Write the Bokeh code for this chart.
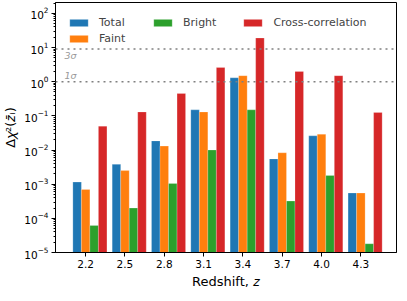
from bokeh.plotting import figure
from bokeh.models import Range1d, FixedTicker, Legend, LegendItem, Span, Label
from bokeh.embed import file_html
from bokeh.resources import INLINE

# ---- data ----
redshifts = [2.2, 2.5, 2.8, 3.1, 3.4, 3.7, 4.0, 4.3]
tick_labels = ["2.2", "2.5", "2.8", "3.1", "3.4", "3.7", "4.0", "4.3"]
total = [1.15e-3, 3.8e-3, 1.85e-2, 0.15, 1.3, 5.5e-3, 2.6e-2, 5.5e-4]
faint = [7.0e-4, 2.5e-3, 1.3e-2, 0.13, 1.5, 8.3e-3, 2.9e-2, 5.5e-4]
bright = [6.2e-5, 2.0e-4, 1.05e-3, 1.0e-2, 0.15, 3.2e-4, 1.8e-3, 1.8e-5]
cross = [0.05, 0.13, 0.45, 2.6, 19.0, 2.0, 1.5, 0.125]
series_names = ["Total", "Faint", "Bright", "Cross-correlation"]
colors = ["#1f77b4", "#ff7f0e", "#2ca02c", "#d62728"]
sigma_levels = [9.0, 1.0]
sigma_labels = ["3σ", "1σ"]
y_decades = list(range(-5, 3))

FONT = "DejaVu Sans"
bar_w = 0.065
x_start, x_end = 1.97, 4.572
y_start, y_end = 1e-5, 10 ** 2.318
fh = 250

p = figure(frame_width=341, frame_height=fh, y_axis_type="log",
           x_range=Range1d(x_start, x_end), y_range=Range1d(y_start, y_end),
           output_backend="svg", toolbar_location=None,
           min_border_left=50, min_border_right=2, min_border_top=2, min_border_bottom=30)
p.grid.visible = False
p.outline_line_color = "black"
p.outline_line_width = 1
p.background_fill_color = "white"
p.border_fill_color = "white"

renderers = []
for k, (vals, col) in enumerate(zip([total, faint, bright, cross], colors)):
    xs = [z + (k - 1) * bar_w for z in redshifts]
    r = p.vbar(x=xs, top=vals, bottom=1e-7, width=bar_w, fill_color=col,
               line_color="white", line_alpha=0.35, line_width=0.6)
    renderers.append(r)

for lvl, lab, ybase, yoff in zip(sigma_levels, sigma_labels, ["top", "bottom"], [-1, 1]):
    p.add_layout(Span(location=lvl, dimension="width", line_color="#808080",
                      line_dash="2 4", line_width=1.5))
    p.add_layout(Label(x=x_start, y=lvl, x_offset=9, y_offset=yoff, text=lab,
                       text_font=FONT, text_font_size="9.5px", text_font_style="italic",
                       text_color="#999999", text_baseline=ybase, text_align="left"))

# axes
xa = p.xaxis[0]
xa.ticker = FixedTicker(ticks=redshifts)
xa.major_label_overrides = {z: t for z, t in zip(redshifts, tick_labels)}
xa.axis_label = "Redshift, 𝑧"
ya = p.yaxis[0]
ya.ticker = FixedTicker(ticks=[10.0 ** e for e in y_decades],
                        minor_ticks=[m * 10.0 ** e for e in y_decades[:-1] for m in range(2, 10)]
                        + [m * 100.0 for m in (2,)])
ya.axis_label = "Δ𝜒²(𝑧̄ᵢ)"
for ax in (xa, ya):
    ax.axis_line_color = "black"
    ax.major_tick_out = 4
    ax.major_tick_in = 0
    ax.minor_tick_in = 0
    ax.minor_tick_out = 2
    ax.major_label_text_font = FONT
    ax.major_label_text_font_size = "10.5px"
    ax.major_label_text_color = "black"
    ax.axis_label_text_font = FONT
    ax.axis_label_text_font_size = "13px"
    ax.axis_label_text_font_style = "normal"
    ax.axis_label_text_color = "black"
    ax.major_label_standoff = 3
    ax.axis_label_standoff = 3
xa.minor_tick_out = 0

# legends
common = dict(glyph_width=23, glyph_height=9, label_height=14, label_standoff=9,
              label_text_font=FONT, label_text_font_size="11px", padding=0, margin=0,
              spacing=2, background_fill_alpha=0, border_line_alpha=0)
leg1 = Legend(items=[LegendItem(label=series_names[0], renderers=[renderers[0]]),
                     LegendItem(label=series_names[1], renderers=[renderers[1]])],
              orientation="vertical", location=(12, fh - 13 - 30), **common)
common2 = dict(common)
common2["spacing"] = 25
leg2 = Legend(items=[LegendItem(label=series_names[2], renderers=[renderers[2]]),
                     LegendItem(label=series_names[3], renderers=[renderers[3]])],
              orientation="horizontal", location=(96, fh - 13 - 14), **common2)
p.add_layout(leg1)
p.add_layout(leg2)

open("out.html", "w").write(file_html(p, INLINE))
